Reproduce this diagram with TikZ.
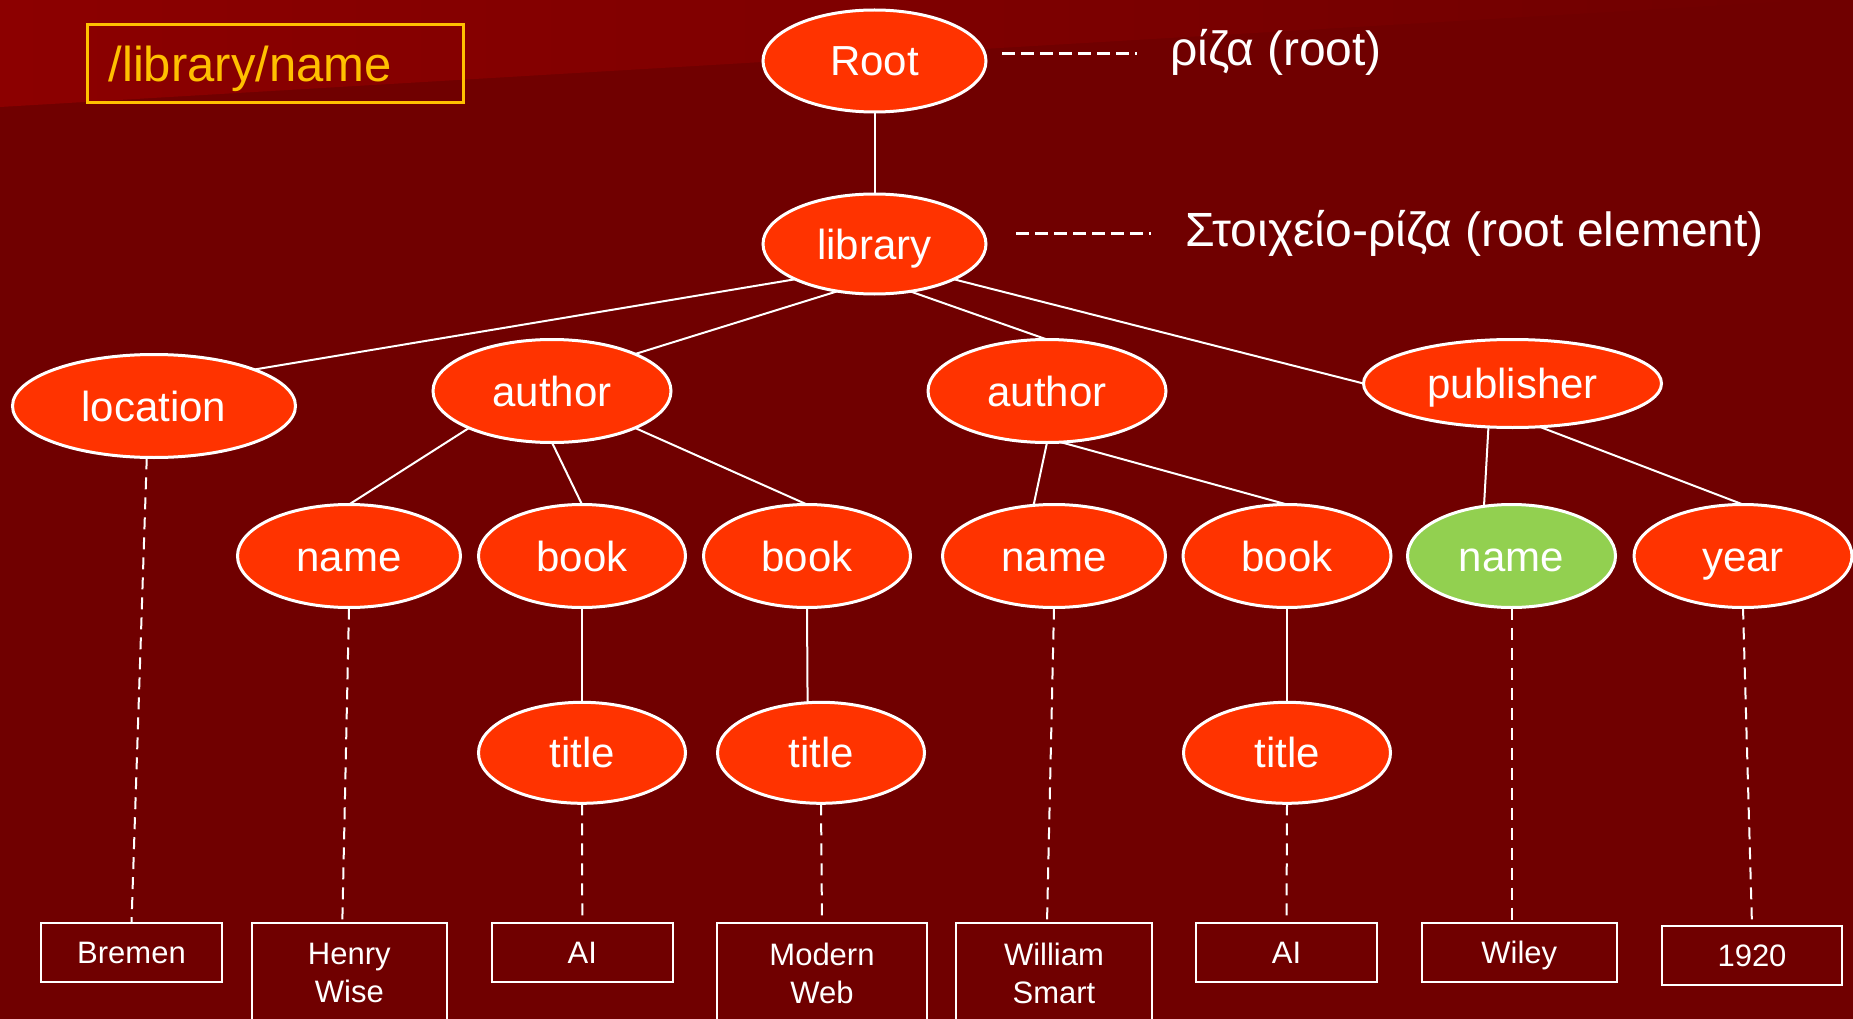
\documentclass[tikz,border=0pt]{standalone}
\usepackage{fontspec}
\setmainfont{Liberation Sans}
\usetikzlibrary{shapes.geometric,calc}
\definecolor{bgc}{RGB}{112,0,0}
\definecolor{bgl}{RGB}{140,0,0}
\definecolor{xorange}{RGB}{255,51,0}
\definecolor{xgreen}{RGB}{146,208,80}
\definecolor{xyellow}{RGB}{255,192,0}
\tikzset{
  el/.style={ellipse, draw=white, line width=3pt, fill=xorange, text=white,
    font=\fontsize{42}{50}\selectfont, inner sep=0pt, outer sep=0pt,
    text height=30pt, text depth=0pt},
  tree/.style={draw=white, line width=2pt},
  vdash/.style={draw=white, line width=2pt, dash pattern=on 12pt off 8pt},
  ldash/.style={draw=white, line width=2.5pt, dash pattern=on 13pt off 6pt},
  leaf/.style={rectangle, draw=white, line width=2pt, text=white,
    font=\fontsize{31}{38}\selectfont, anchor=north, inner xsep=0pt,
    inner ysep=18.5pt, text height=22pt, text depth=0pt, outer sep=0pt},
  leaftwo/.style={rectangle, draw=white, line width=2pt, text=white,
    font=\fontsize{31}{38}\selectfont, anchor=north, inner xsep=0pt,
    inner ysep=19.8pt, align=center, outer sep=0pt},
  lbl/.style={text=white, font=\fontsize{48}{56}\selectfont, inner sep=0pt, anchor=base west},
}
\begin{document}
\begin{tikzpicture}[x=1pt,y=-1pt]
\clip (0,0) rectangle (1853,1019);
\fill[bgc] (0,0) rectangle (1853,1019);
\shade[left color=bgl, right color=bgc] (0,0) -- (1813,0) -- (0,107) -- cycle;

% XPath box
\node[rectangle, draw=xyellow, line width=3pt, text=xyellow,
  font=\fontsize{49}{56}\selectfont, anchor=north west,
  minimum width=376pt, minimum height=78pt, inner xsep=21pt, inner ysep=0pt,
  text width=334pt, align=left, text height=35pt, text depth=0pt]
  (xpath) at (86,23.3) {/library/name};

% ellipses
\node[el, minimum width=223pt, minimum height=102pt] (root) at (874.5,61) {Root};
\node[el, minimum width=223pt, minimum height=100pt] (library) at (874.5,244) {library};
\node[el, minimum width=283pt, minimum height=103pt] (location) at (154,406) {location};
\node[el, minimum width=238pt, minimum height=103pt] (author1) at (552,391) {author};
\node[el, minimum width=238pt, minimum height=103pt] (author2) at (1047,391) {author};
\node[el, minimum width=298pt, minimum height=88pt] (publisher) at (1512.5,383.5) {publisher};
\node[el, minimum width=223pt, minimum height=103pt] (name1) at (349,556) {name};
\node[el, minimum width=207pt, minimum height=103pt] (book1) at (582,556) {book};
\node[el, minimum width=207pt, minimum height=103pt] (book2) at (807,556) {book};
\node[el, minimum width=223pt, minimum height=103pt] (name2) at (1054,556) {name};
\node[el, minimum width=208pt, minimum height=103pt] (book3) at (1287,556) {book};
\node[el, fill=xgreen, minimum width=208pt, minimum height=103pt] (name3) at (1511.5,556) {name};
\node[el, minimum width=218pt, minimum height=103pt] (year) at (1743,556) {year};
\node[el, minimum width=207pt, minimum height=101pt] (title1) at (582,752.8) {title};
\node[el, minimum width=207pt, minimum height=101pt] (title2) at (821,752.8) {title};
\node[el, minimum width=207pt, minimum height=101pt] (title3) at (1287,752.8) {title};

% leaf boxes
\node[leaf, minimum width=181pt] (bremen) at (131.5,923) {Bremen};
\node[leaftwo, minimum width=195.5pt] (henry) at (349.3,923) {Henry\\Wise};
\node[leaf, minimum width=181.5pt] (ai1) at (582.3,923) {AI};
\node[leaftwo, minimum width=210pt] (modern) at (822,923) {Modern\\Web};
\node[leaftwo, minimum width=196pt] (william) at (1054,923) {William\\Smart};
\node[leaf, minimum width=181pt] (ai2) at (1286.5,923) {AI};
\node[leaf, minimum width=195.5pt] (wiley) at (1519.3,923) {Wiley};
\node[leaf, minimum width=180pt] (y1920) at (1752,925.7) {1920};

% labels
\node[lbl] (rootlbl) at (1170,65.7) {ρίζα (root)};
\node[lbl] (liblbl) at (1185,246.7) {Στοιχείο-ρίζα (root element)};
\coordinate (rd1) at (1002,53.3);
\coordinate (rd2) at (1137,53.3);
\coordinate (ld1) at (1016,233.3);
\coordinate (ld2) at (1151,233.3);
\draw[ldash] (rd1) -- (rd2);
\draw[ldash] (ld1) -- (ld2);

% tree connectors
\draw[tree] (root.south) -- (library.north);
\draw[tree] (library.204) -- (location.20);
\draw[tree] (library.232) -- (author1.24);
\draw[tree] (library.307) -- (author2.north);
\draw[tree] (library.336) -- (publisher.west);
\draw[tree] (author1.204) -- (name1.north);
\draw[tree] (author1.south) -- (book1.north);
\draw[tree] (author1.336) -- (book2.north);
\draw[tree] (author2.south) -- (name2.112);
\draw[tree] (author2.285) -- (book3.north);
\draw[tree] (publisher.241) -- (name3.119);
\draw[tree] (publisher.302) -- (year.north);
\draw[tree] (book1.south) -- (title1.north);
\draw[tree] (book2.south) -- (title2.105);
\draw[tree] (book3.south) -- (title3.north);

% dashed value connectors
\draw[vdash] (location.262) -- (bremen.north);
\draw[vdash] (name1.south) -- ([xshift=-7pt]henry.north);
\draw[vdash] (title1.south) -- (ai1.north);
\draw[vdash] (title2.south) -- (modern.north);
\draw[vdash] (name2.south) -- ([xshift=-7pt]william.north);
\draw[vdash] (title3.south) -- (ai2.north);
\draw[vdash] (name3.south) -- (name3.south |- wiley.north);
\draw[vdash] (year.south) -- (y1920.north);
\end{tikzpicture}
\end{document}
